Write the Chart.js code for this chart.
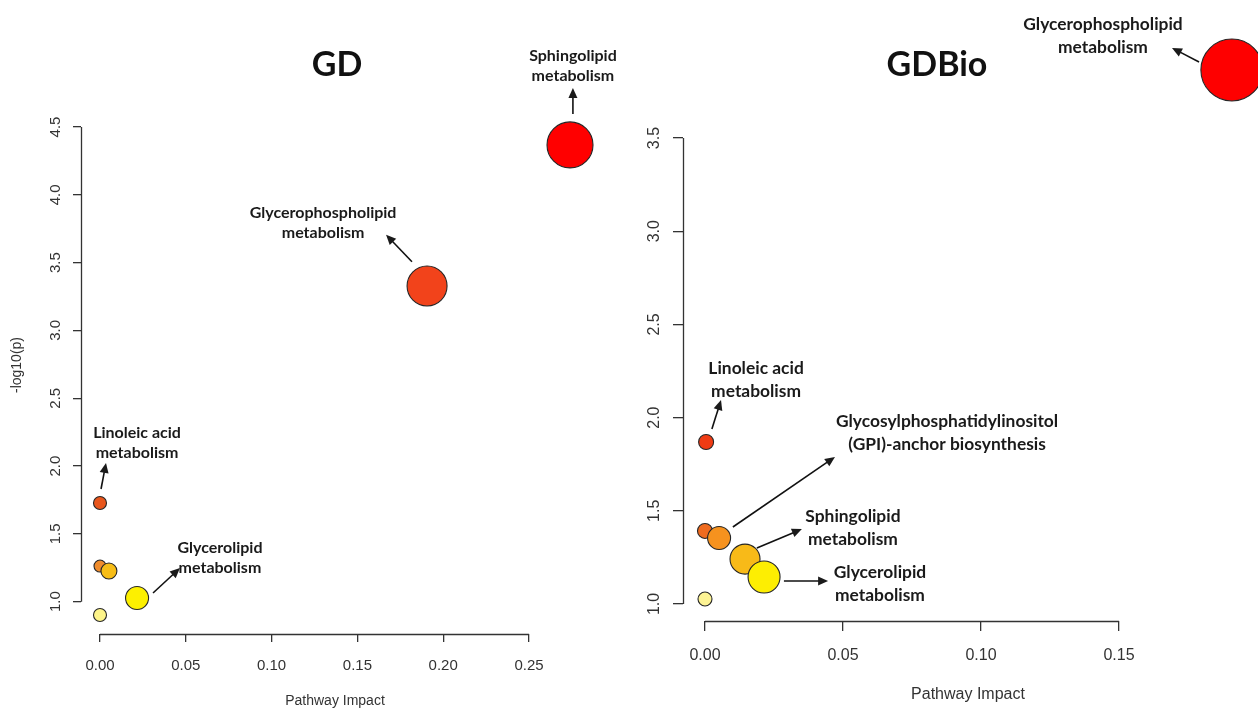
<!DOCTYPE html>
<html>
<head>
<meta charset="utf-8">
<script src="https://cdn.jsdelivr.net/npm/chart.js@4/dist/chart.umd.min.js"></script>
<style>
  html, body { margin: 0; padding: 0; background: #ffffff; }
  #wrap { position: relative; width: 1258px; height: 710px; overflow: hidden; background: #fff; }
  canvas { position: absolute; top: 0; }
</style>
</head>
<body>
<div id="wrap">
  <canvas id="gd" width="629" height="710" style="left:0px"></canvas>
  <canvas id="bio" width="629" height="710" style="left:629px"></canvas>
</div>
<script>
// ---------- data: GD panel ----------
const gdPathways = ['Sphingolipid metabolism', 'Glycerophospholipid metabolism', 'Linoleic acid metabolism', 'Pathway 4', 'Pathway 5', 'Glycerolipid metabolism', 'Pathway 7'];
const gdImpact = [0.2739, 0.1906, 0.0, 0.0, 0.0052, 0.0216, 0.0];
const gdLogP   = [4.368, 3.328, 1.728, 1.263, 1.226, 1.027, 0.902];
const gdSize   = [23, 20, 6.5, 6, 8, 11.5, 6.5];
const gdXTicks = [0.00, 0.05, 0.10, 0.15, 0.20, 0.25];
const gdYTicks = [1.0, 1.5, 2.0, 2.5, 3.0, 3.5, 4.0, 4.5];

// ---------- data: GDBio panel ----------
const bioPathways = ['Glycerophospholipid metabolism', 'Linoleic acid metabolism', 'Pathway 3', 'Glycosylphosphatidylinositol (GPI)-anchor biosynthesis', 'Sphingolipid metabolism', 'Glycerolipid metabolism', 'Pathway 7'];
const bioImpact = [0.1909, 0.0004, 0.0, 0.0051, 0.0145, 0.0214, 0.0];
const bioLogP   = [3.865, 1.869, 1.392, 1.354, 1.241, 1.145, 1.027];
const bioSize   = [31, 7.5, 7.5, 11.5, 15, 16, 7];
const bioXTicks = [0.00, 0.05, 0.10, 0.15];
const bioYTicks = [1.0, 1.5, 2.0, 2.5, 3.0, 3.5];

// ---------- styles ----------
const gdColors  = ['#ff0000', '#f2431b', '#e8561c', '#f08c2c', '#f7bd17', '#fdf000', '#fdf489'];
const bioColors = ['#fe0000', '#ef3b14', '#ef6b1f', '#f6921e', '#f8ba18', '#fdee02', '#fdf394'];

// annotations (positions in data units of each panel)
const gdNotes = [
  { text: ['Sphingolipid', 'metabolism'], at: [0.2756, 4.951], from: [0.2756, 4.595], to: [0.2756, 4.787] },
  { text: ['Glycerophospholipid', 'metabolism'], at: [0.130, 3.793], from: [0.1818, 3.507], to: [0.1667, 3.706] },
  { text: ['Linoleic acid', 'metabolism'], at: [0.0216, 2.170], from: [0.0006, 1.831], to: [0.0035, 2.023] },
  { text: ['Glycerolipid', 'metabolism'], at: [0.0699, 1.326], from: [0.0309, 1.064], to: [0.0466, 1.248] }
];
const bioNotes = [
  { text: ['Glycerophospholipid', 'metabolism'], at: [0.1442, 4.047], from: [0.179, 3.908], to: [0.1692, 3.983] },
  { text: ['Linoleic acid', 'metabolism'], at: [0.0185, 2.204], from: [0.0025, 1.939], to: [0.0058, 2.094] },
  { text: ['Glycosylphosphatidylinositol', '(GPI)-anchor biosynthesis'], at: [0.0877, 1.920], from: [0.0101, 1.413], to: [0.0471, 1.789] },
  { text: ['Sphingolipid', 'metabolism'], at: [0.0536, 1.410], from: [0.0188, 1.300], to: [0.0351, 1.402] },
  { text: ['Glycerolipid', 'metabolism'], at: [0.0634, 1.107], from: [0.0286, 1.123], to: [0.0446, 1.123] }
];

const rAxisPlugin = {
  id: 'rAxis',
  afterDatasetsDraw(chart) {
    const ctx = chart.ctx;
    const o = chart.options.plugins.rAxis;
    const xs = chart.scales.x, ys = chart.scales.y;
    ctx.save();
    ctx.strokeStyle = '#333';
    ctx.lineWidth = 1.3;
    // x axis line between first and last tick (R style)
    const xt = xs.ticks;
    const yb = Math.round(xs.top) + 0.5;
    ctx.beginPath();
    ctx.moveTo(xs.getPixelForValue(xt[0].value), yb);
    ctx.lineTo(xs.getPixelForValue(xt[xt.length - 1].value), yb);
    ctx.stroke();
    const yt = ys.ticks;
    const xl = Math.round(ys.right) + 0.5;
    ctx.beginPath();
    ctx.moveTo(xl, ys.getPixelForValue(yt[0].value));
    ctx.lineTo(xl, ys.getPixelForValue(yt[yt.length - 1].value));
    ctx.stroke();

    // y axis title
    if (o.yTitle) {
      ctx.save();
      ctx.fillStyle = '#333';
      ctx.font = o.yTitleFont;
      ctx.textAlign = 'center';
      ctx.textBaseline = 'middle';
      ctx.translate(o.yTitleX, o.yTitleY);
      ctx.rotate(-Math.PI / 2);
      ctx.fillText(o.yTitle, 0, 0);
      ctx.restore();
    }

    // panel title
    ctx.fillStyle = '#111';
    ctx.font = o.titleFont;
    ctx.textAlign = 'center';
    ctx.textBaseline = 'middle';
    ctx.fillText(o.title, o.titleX, o.titleY);

    // annotations
    ctx.font = o.noteFont;
    ctx.fillStyle = '#1a1a1a';
    ctx.strokeStyle = '#111';
    for (const n of o.notes) {
      const cx = xs.getPixelForValue(n.at[0]);
      const cy = ys.getPixelForValue(n.at[1]);
      const lh = o.noteLine;
      const y0 = cy - lh * (n.text.length - 1) / 2;
      n.text.forEach((t, i) => ctx.fillText(t, cx, y0 + i * lh));
      const x1 = xs.getPixelForValue(n.from[0]), y1 = ys.getPixelForValue(n.from[1]);
      const x2 = xs.getPixelForValue(n.to[0]), y2 = ys.getPixelForValue(n.to[1]);
      const ang = Math.atan2(y2 - y1, x2 - x1);
      const hl = 10, hw = 4.5;
      ctx.lineWidth = 1.6;
      ctx.beginPath();
      ctx.moveTo(x1, y1);
      ctx.lineTo(x2 - Math.cos(ang) * hl * 0.8, y2 - Math.sin(ang) * hl * 0.8);
      ctx.stroke();
      ctx.beginPath();
      ctx.moveTo(x2, y2);
      ctx.lineTo(x2 - Math.cos(ang) * hl - Math.sin(ang) * hw, y2 - Math.sin(ang) * hl + Math.cos(ang) * hw);
      ctx.lineTo(x2 - Math.cos(ang) * hl + Math.sin(ang) * hw, y2 - Math.sin(ang) * hl - Math.cos(ang) * hw);
      ctx.closePath();
      ctx.fill();
    }
    ctx.restore();
  }
};

function makePanel(id, cfg) {
  const points = cfg.impact.map((v, i) => ({ x: v, y: cfg.logp[i], r: cfg.size[i] }));
  return new Chart(document.getElementById(id), {
    type: 'bubble',
    data: {
      datasets: [{
        label: cfg.label,
        data: points,
        backgroundColor: cfg.colors,
        borderColor: '#262626',
        borderWidth: 1.1,
        clip: false
      }]
    },
    options: {
      responsive: false,
      animation: false,
      events: [],
      layout: { padding: cfg.padding, autoPadding: false },
      plugins: {
        legend: { display: false },
        tooltip: { enabled: false },
        title: { display: false },
        rAxis: { title: cfg.title, titleX: cfg.titleX, titleY: cfg.titleY, titleFont: 'bold 34px Lato',
                 notes: cfg.notes, noteFont: cfg.noteFont, noteLine: cfg.noteLine,
                 yTitle: cfg.yTitle, yTitleX: 17, yTitleY: 365, yTitleFont: '14px "Liberation Sans"' }
      },
      scales: {
        x: {
          type: 'linear',
          min: cfg.xMin, max: cfg.xMax,
          afterBuildTicks: s => { s.ticks = cfg.xTicks.map(v => ({ value: v })); },
          afterFit: s => { s.height = cfg.xAxisHeight; },
          border: { display: false },
          grid: { drawOnChartArea: false, drawTicks: true, tickLength: cfg.tickLen, color: '#333', lineWidth: 1.3 },
          ticks: {
            color: '#333', padding: cfg.xTickPad, maxRotation: 0, minRotation: 0,
            font: { family: 'Liberation Sans', size: cfg.tickSize },
            callback: v => Number(v).toFixed(2)
          },
          title: {
            display: true, text: 'Pathway Impact', color: '#333',
            font: { family: 'Liberation Sans', size: cfg.axisTitleSize },
            padding: { top: 0, bottom: cfg.xTitlePadBottom }
          }
        },
        y: {
          type: 'linear',
          min: cfg.yMin, max: cfg.yMax,
          afterBuildTicks: s => { s.ticks = cfg.yTicks.map(v => ({ value: v })); },
          afterFit: s => { s.width = cfg.yAxisWidth; },
          border: { display: false },
          grid: { drawOnChartArea: false, drawTicks: true, tickLength: cfg.tickLen, color: '#333', lineWidth: 1.3 },
          ticks: {
            color: '#333', padding: cfg.yTickPad, minRotation: 90, maxRotation: 90, crossAlign: 'center',
            font: { family: 'Liberation Sans', size: cfg.tickSize },
            callback: v => Number(v).toFixed(1)
          },
          title: { display: false }
        }
      }
    },
    plugins: [rAxisPlugin]
  });
}

makePanel('gd', {
  label: 'GD', impact: gdImpact, logp: gdLogP, size: gdSize, colors: gdColors,
  xTicks: gdXTicks, yTicks: gdYTicks,
  xMin: -0.01107, xMax: 0.28497, yMin: 0.7618, yMax: 4.5074,
  padding: { left: 0, top: 126, right: 40, bottom: 0 },
  xAxisHeight: 76, yAxisWidth: 81, tickLen: 8, xTickPad: 15, yTickPad: 7,
  tickSize: 15, axisTitleSize: 14, xTitlePadBottom: 0.6, yTitle: '-log10(p)',
  title: 'GD', titleX: 337, titleY: 65,
  notes: gdNotes, noteFont: 'bold 16px Lato', noteLine: 20
});

makePanel('bio', {
  label: 'GDBio', impact: bioImpact, logp: bioLogP, size: bioSize, colors: bioColors,
  xTicks: bioXTicks, yTicks: bioYTicks,
  xMin: -0.00797, xMax: 0.19855, yMin: 0.9088, yMax: 3.9775,
  padding: { left: 0, top: 49, right: 5, bottom: 0 },
  xAxisHeight: 89, yAxisWidth: 54, tickLen: 10, xTickPad: 15, yTickPad: 7,
  tickSize: 16, axisTitleSize: 16, xTitlePadBottom: 5.4, yTitle: '',
  title: 'GDBio', titleX: 308, titleY: 65,
  notes: bioNotes, noteFont: 'bold 17.4px Lato', noteLine: 23
});
</script>
</body>
</html>
